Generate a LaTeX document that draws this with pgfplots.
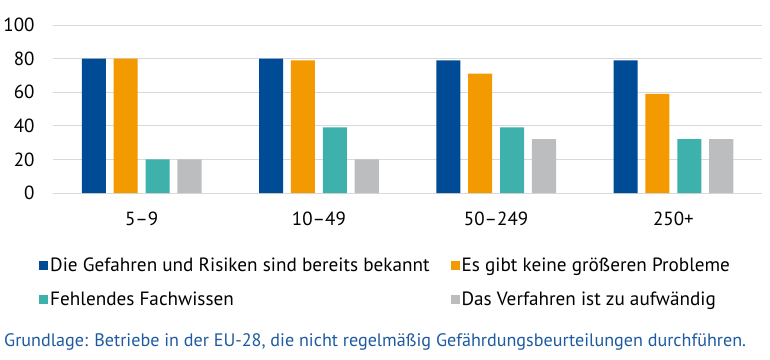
\documentclass[border=0pt]{standalone}
\usepackage{pgfplots}
\pgfplotsset{compat=1.18}
\usepackage{fontspec}
\setmainfont{PT Sans}
\definecolor{cblue}{HTML}{004B96}
\definecolor{corange}{HTML}{F39A00}
\definecolor{cteal}{HTML}{3EB1AC}
\definecolor{cgrey}{HTML}{BBBDBF}
\definecolor{ccap}{HTML}{1E5AA0}
\definecolor{cgrid}{HTML}{D9D9D9}
\begin{document}
\begin{tikzpicture}
\useasboundingbox (0,0) rectangle (770pt,-359pt);
\begin{axis}[
  at={(53pt,-193pt)}, anchor=south west,
  scale only axis, width=709pt, height=168pt,
  xmin=-0.5, xmax=3.5, ymin=0, ymax=100,
  ytick={0,20,40,60,80,100},
  xtick={0,1,2,3},
  xticklabels={5--9,10--49,50--249,250+},
  axis line style={draw=none},
  major tick length=0pt,
  ymajorgrids, grid style={cgrid, line width=1pt},
  /pgf/number format/assume math mode=true,
  tick label style={font=\fontsize{19}{21}\selectfont},
  yticklabel style={xshift=-15pt},
  xticklabel style={yshift=-15pt},
  ybar, bar width=0.1356,
  legend columns=2,
  legend cell align=left,
  legend style={draw=none, fill=none, inner sep=0pt,
    font=\fontsize{19.2}{21}\selectfont,
    at={(-0.0197,-0.375)}, anchor=north west,
    /tikz/every even column/.append style={column sep=19pt},
    row sep=15pt},
  legend image code/.code={\path[#1, draw=none] (0pt,-4.5pt) rectangle (9pt,4.5pt);},
]
\addplot[fill=cblue, draw=none, bar shift=-0.27] coordinates {(0,80) (1,80) (2,79) (3,79)};
\addplot[fill=corange, draw=none, bar shift=-0.09] coordinates {(0,80) (1,79) (2,71) (3,59)};
\addplot[fill=cteal, draw=none, bar shift=0.09] coordinates {(0,20) (1,39) (2,39) (3,32)};
\addplot[fill=cgrey, draw=none, bar shift=0.27] coordinates {(0,20) (1,20) (2,32) (3,32)};
\legend{Die Gefahren und Risiken sind bereits bekannt, Es gibt keine größeren Probleme, Fehlendes Fachwissen, Das Verfahren ist zu aufwändig}
\end{axis}
\node[anchor=west, text=ccap, inner sep=0pt, font=\fontsize{18.1}{20}\selectfont] at (4pt,-342pt) {Grundlage: Betriebe in der EU-28, die nicht regelmäßig Gefährdungsbeurteilungen durchführen.};
\end{tikzpicture}
\end{document}
